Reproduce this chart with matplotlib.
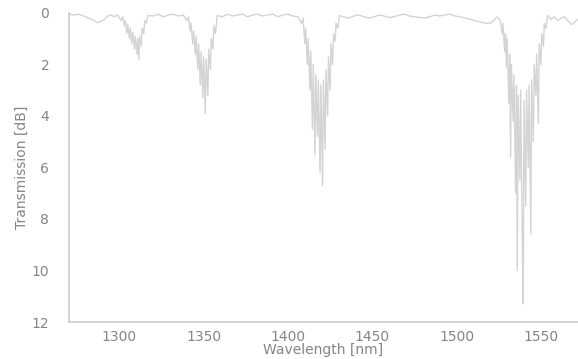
import numpy as np
import matplotlib.pyplot as plt

# transmission spectrum (wavelength in nm, loss in dB)
wavelength = [
    1270, 1273, 1276, 1279, 1282, 1285, 1287, 1289, 1291, 1293, 1295, 1297, 1299,
    1301, 1302, 1303, 1303.5, 1304.5, 1305, 1306, 1306.5, 1307.5, 1308, 1309, 1309.5,
    1310.5, 1311, 1311.5, 1312, 1313, 1313.5, 1314.5, 1315, 1316, 1317,
    1320, 1323, 1326, 1329, 1332, 1335, 1338,
    1340, 1341, 1342, 1342.5, 1343.5, 1344, 1345, 1345.5, 1346.5, 1347, 1348, 1348.5,
    1349.5, 1350, 1351, 1351.5, 1352.5, 1353, 1354, 1354.5, 1355.5, 1356, 1357, 1358,
    1361, 1364, 1367, 1370, 1373, 1376, 1379, 1382, 1385, 1388, 1391, 1394, 1397,
    1400, 1403, 1406,
    1408, 1409, 1410, 1410.5, 1411.5, 1412, 1413, 1413.5, 1414.5, 1415, 1416, 1416.5,
    1417.5, 1418, 1419, 1419.5, 1420.5, 1421, 1422, 1422.5, 1423.5, 1424, 1425, 1425.5,
    1426.5, 1427, 1428, 1428.5, 1429.5, 1430.5,
    1433, 1436, 1439, 1442, 1445, 1448, 1451, 1454, 1457, 1460, 1463, 1466, 1469,
    1472, 1475, 1478, 1481, 1484, 1487, 1490, 1493, 1496, 1499, 1502, 1505, 1508,
    1511, 1514, 1517, 1520, 1522, 1524, 1526,
    1527, 1527.5, 1528.5, 1529, 1529.5, 1530, 1531, 1531.5, 1532, 1532.5, 1533.5, 1534,
    1535, 1535.5, 1536, 1536.5, 1537.5, 1538, 1539, 1539.5, 1540, 1541, 1541.5, 1542.5,
    1543, 1544, 1544.5, 1545.5, 1546, 1547, 1547.5, 1548.5, 1549, 1550, 1550.5, 1551.5,
    1552, 1553, 1554,
    1556, 1558, 1560, 1562, 1564, 1566, 1568, 1570, 1572,
]
loss_db = [
    0.05, 0.08, 0.05, 0.12, 0.2, 0.3, 0.38, 0.33, 0.25, 0.12, 0.08, 0.15, 0.08,
    0.3, 0.15, 0.5, 0.3, 0.8, 0.45, 1.0, 0.6, 1.2, 0.75, 1.4, 0.9,
    1.6, 1.0, 1.8, 0.9, 1.3, 0.6, 0.8, 0.3, 0.4, 0.1,
    0.12, 0.05, 0.15, 0.08, 0.05, 0.12, 0.08,
    0.3, 0.15, 0.7, 0.4, 1.2, 0.7, 1.6, 0.9, 2.2, 1.2, 2.8, 1.5,
    3.3, 1.7, 3.9, 1.8, 3.2, 1.4, 2.2, 1.0, 1.4, 0.5, 0.8, 0.1,
    0.15, 0.05, 0.12, 0.08, 0.05, 0.15, 0.08, 0.05, 0.12, 0.08, 0.05, 0.15, 0.08,
    0.05, 0.12, 0.15,
    0.4, 0.2, 1.2, 0.6, 2.0, 1.0, 3.0, 1.5, 4.5, 2.0, 5.5, 2.4,
    4.8, 2.6, 6.2, 2.8, 6.7, 2.6, 5.3, 2.2, 4.0, 1.7, 3.0, 1.2,
    2.0, 0.8, 1.1, 0.4, 0.6, 0.1,
    0.15, 0.2, 0.12, 0.08, 0.15, 0.2, 0.15, 0.08, 0.12, 0.18, 0.15, 0.08, 0.05,
    0.12, 0.15, 0.18, 0.2, 0.15, 0.08, 0.12, 0.08, 0.05, 0.12, 0.15, 0.2, 0.25,
    0.3, 0.35, 0.4, 0.4, 0.3, 0.15, 0.3,
    0.8, 0.4, 1.5, 0.8, 2.1, 1.0, 3.5, 1.6, 5.6, 2.0, 4.2, 2.4,
    7.0, 2.8, 10.0, 3.2, 6.5, 3.0, 9.0, 11.3, 3.4, 7.5, 3.0, 6.0,
    2.8, 8.6, 2.6, 5.0, 2.0, 3.2, 1.6, 4.3, 1.2, 2.0, 0.8, 1.3,
    0.4, 0.6, 0.1,
    0.25, 0.15, 0.3, 0.2, 0.15, 0.3, 0.45, 0.35, 0.25,
]

x_ticks = [1300, 1350, 1400, 1450, 1500, 1550]
y_ticks = [0, 2, 4, 6, 8, 10, 12]

fig = plt.figure(figsize=(5.78, 3.59), dpi=100)
ax = fig.add_axes([0.119, 0.103, 0.881, 0.861])

ax.plot(wavelength, loss_db, color="#d4d4d4", linewidth=1.0)

ax.set_xlim(1270, 1572)
ax.set_ylim(12, 0)
ax.set_xticks(x_ticks)
ax.set_yticks(y_ticks)

text_color = "#858585"
ax.tick_params(length=0, labelsize=10, colors=text_color)
ax.tick_params(axis='y', pad=14)
ax.tick_params(axis='x', pad=6)

for side in ['top', 'right']:
    ax.spines[side].set_visible(False)
for side in ['left', 'bottom']:
    ax.spines[side].set_color("#cccccc")
    ax.spines[side].set_linewidth(1.2)

ax.set_xlabel("Wavelength [nm]", fontsize=10, color=text_color, labelpad=-1)
ax.set_ylabel("Transmission [dB]", fontsize=10, color=text_color, labelpad=2)

fig.savefig("out.png", dpi=100)
